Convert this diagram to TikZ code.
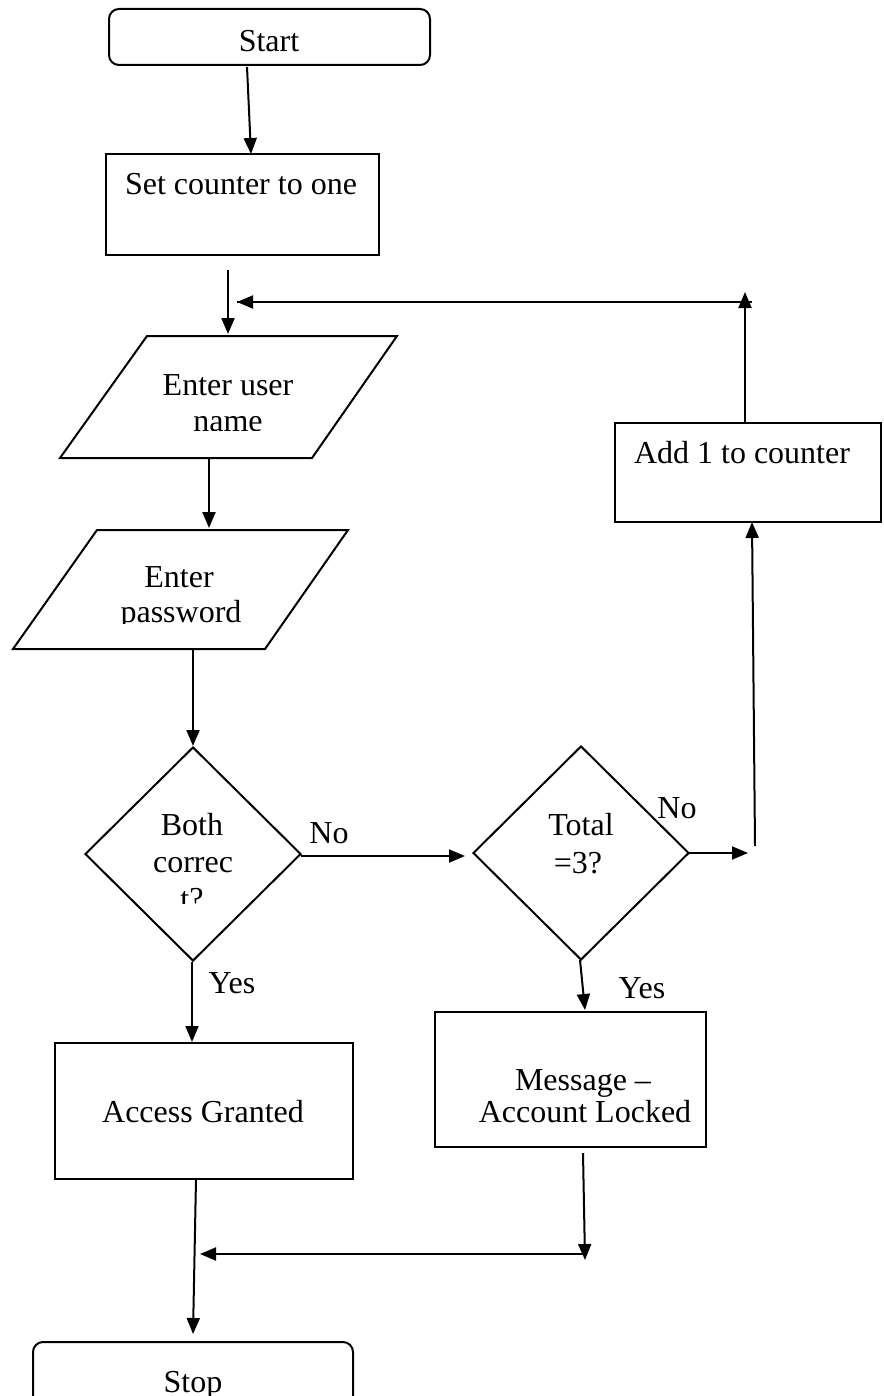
\documentclass[tikz,border=0pt]{standalone}
\usepackage{fontspec}
\setmainfont{Liberation Serif}
\usetikzlibrary{arrows.meta,shapes.geometric,fit,calc}
\begin{document}
\begin{tikzpicture}[x=0.5pt,y=-0.5pt,line width=1pt,
  arr/.style={-{Triangle[length=8pt,width=6.5pt]}},
  box/.style={draw,inner sep=0pt},
  term/.style={draw,inner sep=0pt,rounded corners=5pt},
  dec/.style={draw,diamond,inner sep=0pt,minimum width=108pt,minimum height=107pt},
  txt/.style={anchor=base,inner sep=0pt,font=\fontsize{16}{19}\selectfont}]
\fill[white] (0,0) rectangle (883,1396);
\useasboundingbox (0,0) rectangle (883,1396);
% terminals and boxes
\node[term,fit={(109,9) (430,65)}] (start) {};
\node[txt] (startT) at (269,52) {Start};
\node[box,fit={(106,154) (379,255)}] (set) {};
\node[txt] (setT) at (241,195) {Set counter to one};
% input parallelograms
\draw (147,336) coordinate (unTL) -- (397,336) -- (312,458) -- (60,458) -- cycle;
\coordinate (unTop) at (228,336);
\coordinate (unBot) at (209,458);
\node[txt] (unT1) at (228,395) {Enter user};
\begin{scope}
\clip (40,336) rectangle (420,430);
\node[txt] (unT2) at (228,431) {name};
\end{scope}
\draw (97,530) -- (348,530) -- (265,649) -- (13,649) -- cycle;
\coordinate (pwTop) at (209,530);
\coordinate (pwBot) at (193,649);
\node[txt] (pwT1) at (179,587) {Enter};
\begin{scope}
\clip (0,530) rectangle (360,623);
\node[txt] (pwT2) at (181,622) {password};
\end{scope}
% decisions
\node[dec] (d1) at (193,854) {};
\node[txt] (d1T1) at (192,835) {Both};
\node[txt] (d1T2) at (193,872) {correc};
\begin{scope}
\clip (120,880) rectangle (270,903);
\node[txt] (d1T3) at (192,909) {t?};
\end{scope}
\node[dec] (d2) at (581,853) {};
\node[txt] (d2T1) at (581,835) {Total};
\node[txt] (d2T2) at (578,873) {=3?};
% process boxes
\node[box,fit={(615,423) (881,522)}] (add) {};
\node[txt] (addT) at (742,463) {Add 1 to counter};
\node[box,fit={(55,1043) (353,1179)}] (acc) {};
\node[txt] (accT) at (203,1122) {Access Granted};
\node[box,fit={(435,1012) (706,1147)}] (msg) {};
\node[txt] (msgT1) at (583,1090) {Message –};
\node[txt] (msgT2) at (585,1122) {Account Locked};
\node[term,fit={(33,1342) (353,1430)}] (stop) {};
\node[txt] (stopT) at (193,1392) {Stop};
% labels
\node[txt] (no1) at (329,843) {No};
\node[txt] (no2) at (677,818) {No};
\node[txt] (yes1) at (232,993) {Yes};
\node[txt] (yes2) at (642,998) {Yes};
% connector coordinates
\coordinate (s1) at (247,67);
\coordinate (s2) at (251,154);
\coordinate (loopIn) at (228,270);
\coordinate (loopTip) at (228,334);
\coordinate (addTop) at (745,423);
\coordinate (upTip) at (745,292);
\coordinate (loopR) at (752,302);
\coordinate (loopL) at (237,302);
\coordinate (d1E) at (301,856);
\coordinate (d2W) at (465,856);
\coordinate (d2E) at (689,853);
\coordinate (rTip) at (748,853);
\coordinate (rUp) at (755,846);
\coordinate (addBot) at (752,522);
\coordinate (d1S) at (192,962);
\coordinate (accN) at (192,1042);
\coordinate (d2S) at (580,960);
\coordinate (msgN) at (585,1010);
\coordinate (msgOut) at (583,1153);
\coordinate (msgTip) at (585,1260);
\coordinate (joinR) at (585,1254);
\coordinate (joinL) at (200,1254);
\coordinate (accS) at (196,1179);
\coordinate (stopN) at (193,1334);
% connectors
\draw[arr] (s1) -- (s2);
\draw[arr] (loopIn) -- (loopTip);
\draw[arr] (addTop) -- (upTip);
\draw (loopR) -- (loopL);
\draw[arr] (loopR) -- (loopL);
\draw[arr] (unBot) -- (209,528) coordinate (pwIn);
\draw[arr] (pwBot) -- (d1.north);
\draw[arr] (d1E) -- (d2W);
\draw[arr] (d2E) -- (rTip);
\draw[arr] (rUp) -- (addBot);
\draw[arr] (d1S) -- (accN);
\draw[arr] (d2S) -- (msgN);
\draw[arr] (msgOut) -- (msgTip);
\draw[arr] (joinR) -- (joinL);
\draw[arr] (accS) -- (stopN);
\end{tikzpicture}
\end{document}
